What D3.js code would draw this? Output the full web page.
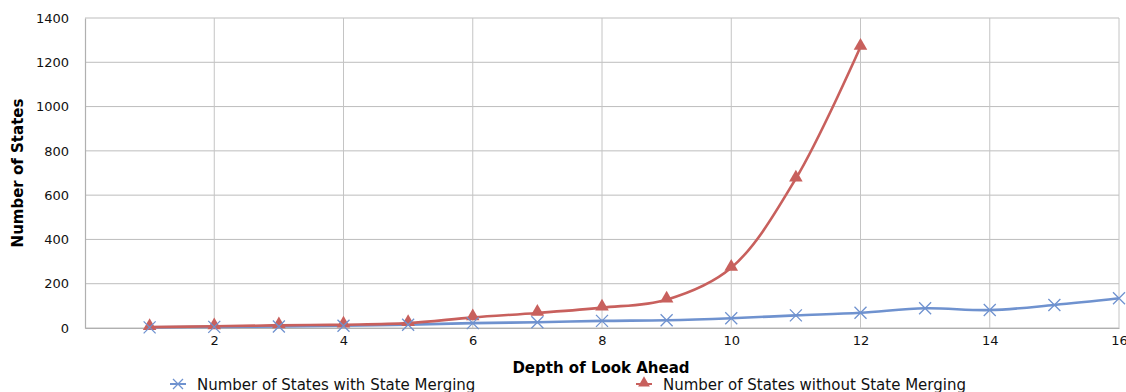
<!DOCTYPE html>
<html>
<head>
<meta charset="utf-8">
<script src="https://cdn.jsdelivr.net/npm/d3@7"></script>
<style>
  body { margin: 0; background: #fff; }
  svg { display: block; font-family: "DejaVu Sans", sans-serif; }
</style>
</head>
<body>
<svg id="chart" width="1126" height="392"></svg>
<script>
// data
const depths = [1, 2, 3, 4, 5, 6, 7, 8, 9, 10, 11, 12, 13, 14, 15, 16];
const withMerging = [3, 5, 7, 10, 15, 22, 26, 32, 35, 44, 57, 69, 89, 81, 104, 134];
const withoutMerging = [4, 8, 12, 15, 22, 48, 68, 92, 128, 272, 675, 1270];
const xTicks = [2, 4, 6, 8, 10, 12, 14, 16];
const yTicks = [0, 200, 400, 600, 800, 1000, 1200, 1400];
const seriesNames = ["Number of States with State Merging", "Number of States without State Merging"];

const blue = "#6f92cf", red = "#c8605d";

const svg = d3.select("#chart");

const x = d3.scaleLinear().domain([0, 16]).range([85, 1119]);
const y = d3.scaleLinear().domain([0, 1400]).range([328, 18]);

// gridlines
svg.append("g").selectAll("line").data(yTicks).join("line")
  .attr("x1", x(0)).attr("x2", x(16))
  .attr("y1", d => y(d)).attr("y2", d => y(d))
  .attr("stroke", "#bdbdbd").attr("stroke-width", 1);
svg.append("g").selectAll("line").data(xTicks).join("line")
  .attr("x1", d => x(d)).attr("x2", d => x(d))
  .attr("y1", y(0)).attr("y2", y(1400))
  .attr("stroke", "#c4c4c4").attr("stroke-width", 1);

// axes
const xAxis = svg.append("g").attr("transform", "translate(0," + y(0) + ")")
  .call(d3.axisBottom(x).tickValues(xTicks).tickSize(0).tickPadding(8));
const yAxis = svg.append("g").attr("transform", "translate(" + x(0) + ",0)")
  .call(d3.axisLeft(y).tickValues(yTicks).tickFormat(d3.format("d")).tickSize(0).tickPadding(16));
[xAxis, yAxis].forEach(a => {
  a.select(".domain").attr("stroke", "#b0b0b0").attr("stroke-width", 1.2);
  a.selectAll("text").attr("font-family", "DejaVu Sans").attr("font-size", 13).attr("fill", "#111");
});

// titles
svg.append("text").attr("x", 601).attr("y", 373).attr("text-anchor", "middle")
  .attr("font-weight", "bold").attr("font-size", 15).text("Depth of Look Ahead");
svg.append("text").attr("transform", "translate(23," + 173 + ") rotate(-90)")
  .attr("text-anchor", "middle").attr("font-weight", "bold").attr("font-size", 15)
  .text("Number of States");

const line = d3.line()
  .curve(d3.curveCatmullRom.alpha(0.5))
  .x((d, i) => x(depths[i]))
  .y(d => y(d));

const marks = svg.append("g");

// blue series
marks.append("path").datum(withMerging)
  .attr("fill", "none").attr("stroke", blue).attr("stroke-width", 2.6)
  .attr("d", line);
// red series
marks.append("path").datum(withoutMerging)
  .attr("fill", "none").attr("stroke", red).attr("stroke-width", 2.6)
  .attr("d", line);

const tri = d3.symbol().type(d3.symbolTriangle).size(80);

// red markers
marks.append("g").selectAll("path").data(withoutMerging).join("path")
  .attr("transform", (d, i) => "translate(" + x(depths[i]) + "," + (y(d) - 1) + ")")
  .attr("d", tri).attr("fill", red);

// blue x markers
function xMark(g, cx, cy, s) {
  g.append("path")
    .attr("d", `M${cx - s},${cy - s}L${cx + s},${cy + s}M${cx - s},${cy + s}L${cx + s},${cy - s}`)
    .attr("stroke", blue).attr("stroke-width", 1.3).attr("fill", "none");
}
const bm = marks.append("g");
withMerging.forEach((d, i) => xMark(bm, x(depths[i]), y(d), 6));

// legend
const lg = svg.append("g");
xMark(lg, 178, 384, 5);
lg.append("line").attr("x1", 170).attr("x2", 186).attr("y1", 384).attr("y2", 384)
  .attr("stroke", blue).attr("stroke-width", 2);
lg.append("text").attr("x", 197).attr("y", 390).attr("font-size", 15).attr("fill", "#111")
  .text(seriesNames[0]);
lg.append("path").attr("transform", "translate(644,383)").attr("d", d3.symbol().type(d3.symbolTriangle).size(60))
  .attr("fill", red);
lg.append("line").attr("x1", 636).attr("x2", 652).attr("y1", 384).attr("y2", 384)
  .attr("stroke", red).attr("stroke-width", 2);
lg.append("text").attr("x", 663).attr("y", 390).attr("font-size", 15).attr("fill", "#111")
  .text(seriesNames[1]);
</script>
</body>
</html>
